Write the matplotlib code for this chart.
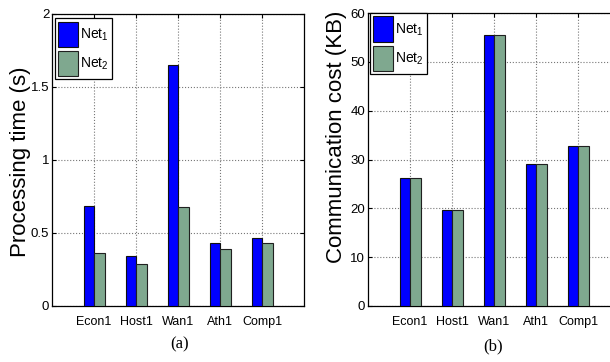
import numpy as np
import matplotlib
matplotlib.use("Agg")
import matplotlib.pyplot as plt


# =========================
# DATA
# =========================
categories = ["Econ1", "Host1", "Wan1", "Ath1", "Comp1"]
series_names = ["Net$_1$", "Net$_2$"]

proc_net1 = [0.686, 0.341, 1.653, 0.432, 0.466]
proc_net2 = [0.364, 0.287, 0.677, 0.393, 0.434]
proc_ticks = [0, 0.5, 1, 1.5, 2]
proc_ticklabels = ["0", "0.5", "1", "1.5", "2"]

comm_net1 = [26.3, 19.7, 55.5, 29.0, 32.7]
comm_net2 = [26.3, 19.7, 55.5, 29.1, 32.8]
comm_ticks = [0, 10, 20, 30, 40, 50, 60]
comm_ticklabels = ["0", "10", "20", "30", "40", "50", "60"]


# =========================
# STYLE
# =========================
plt.rcParams["font.family"] = ["Liberation Sans", "DejaVu Sans"]
plt.rcParams["mathtext.fontset"] = "custom"
plt.rcParams["mathtext.rm"] = "Liberation Sans"
plt.rcParams["mathtext.it"] = "Liberation Sans"

BLUE = "#0000ff"
GREEN = "#7fa88f"
W, H = 610, 362
TICK_FS = 9


def px_box(x0, y0, x1, y1):
    # pixel box (top-left origin) -> figure fraction
    return [x0 / W, 1 - y1 / H, (x1 - x0) / W, (y1 - y0) / H]


def draw_panel(ax, v1, v2, ticks, ticklabels, ylim, ylabel, label_xy, legend_anchor):
    x = np.arange(1, len(categories) + 1)
    w = 0.25
    ax.bar(x - w / 2, v1, w, color=BLUE, edgecolor="#101010", linewidth=0.8,
           label=series_names[0], zorder=3)
    ax.bar(x + w / 2, v2, w, color=GREEN, edgecolor="#202020", linewidth=0.8,
           label=series_names[1], zorder=3)

    ax.set_xlim(0, 6)
    ax.set_ylim(*ylim)
    ax.set_xticks(x)
    ax.set_xticklabels(categories, fontsize=TICK_FS)
    ax.set_yticks(ticks)
    ax.set_yticklabels(ticklabels, fontsize=TICK_FS + 0.5)
    ax.tick_params(axis="x", direction="in", top=True, length=3, pad=7)
    ax.tick_params(axis="y", direction="in", right=True, length=3, pad=2)

    ax.grid(True, linestyle=":", color="#777777", linewidth=0.8)
    ax.set_axisbelow(True)
    for sp in ax.spines.values():
        sp.set_linewidth(0.9)

    ax.set_ylabel(ylabel, fontsize=16, va="center")
    ax.yaxis.set_label_coords(*label_xy)

    leg = ax.legend(loc="upper left", bbox_to_anchor=legend_anchor, borderaxespad=0,
                    fontsize=10, handlelength=1.4, handleheight=2.4,
                    handletextpad=0.15, labelspacing=0.3, borderpad=0.25,
                    fancybox=False, framealpha=1, edgecolor="black")
    leg.get_frame().set_linewidth(0.9)


fig = plt.figure(figsize=(6.1, 3.62), dpi=100)

ax1 = fig.add_axes(px_box(52, 14, 304, 306))
draw_panel(ax1, proc_net1, proc_net2, proc_ticks, proc_ticklabels, (0, 2),
           "Processing time (s)", (-0.125, 0.493), (0.012, 0.986))

ax2 = fig.add_axes(px_box(368, 13, 620, 306))
draw_panel(ax2, comm_net1, comm_net2, comm_ticks, comm_ticklabels, (0, 60),
           "Communication cost (KB)", (-0.125, 0.577), (0.008, 1.0))

fig.text(180 / W, 1 - 344 / H, "(a)", ha="center", va="center",
         fontsize=12, family=["Liberation Serif"])
fig.text(493 / W, 1 - 346 / H, "(b)", ha="center", va="center",
         fontsize=12, family=["Liberation Serif"])

fig.savefig("out.png", dpi=100)
